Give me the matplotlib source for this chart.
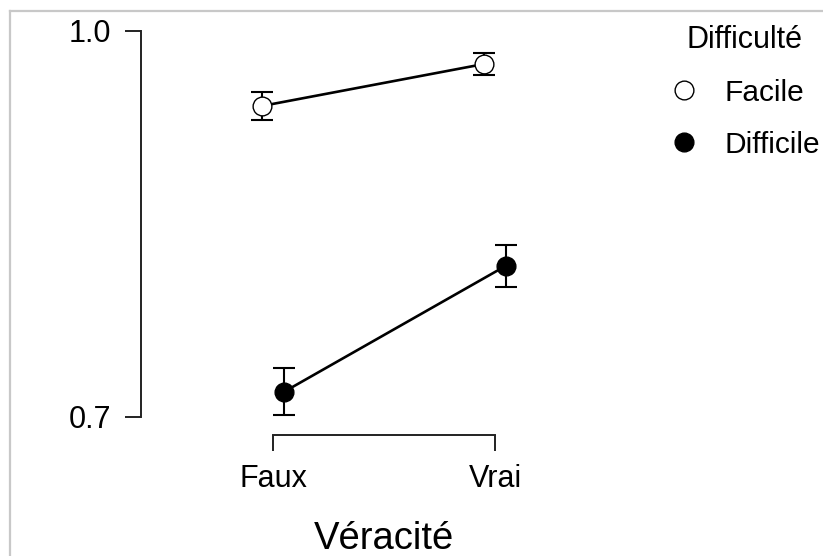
import matplotlib
matplotlib.use("Agg")
import matplotlib.pyplot as plt
from matplotlib.lines import Line2D

plt.rcParams['font.family'] = ['Liberation Sans', 'DejaVu Sans']

# data
categories = ["Faux", "Vrai"]
groups = ["Facile", "Difficile"]
facile_mean = [0.9415, 0.9741]
facile_err = [0.0107, 0.0083]
difficile_mean = [0.7194, 0.8174]
difficile_err = [0.0184, 0.0164]
yticks = [0.7, 1.0]
ytick_labels = ["0.7", "1.0"]

W, H = 823, 556
dpi = 100
fig = plt.figure(figsize=(W / dpi, H / dpi), dpi=dpi)

# axes box in pixel terms (top-left origin)
left, right, top, bottom = 141, 620, 20, 435
ax = fig.add_axes([left / W, 1 - bottom / H, (right - left) / W, (bottom - top) / H])

x = list(range(len(categories)))
dodge = 0.05
styles = [
    (facile_mean, facile_err, -dodge, "white"),
    (difficile_mean, difficile_err, dodge, "black"),
]
for (m, e, off, fc), name in zip(styles, groups):
    xs = [v + off for v in x]
    ax.errorbar(xs, m, yerr=e, fmt="none", ecolor="black", elinewidth=1.5,
                capsize=7.9, capthick=1.5, zorder=2)
    ax.plot(xs, m, color="black", lw=1.9, zorder=3)
    ax.plot(xs, m, ls="none", marker="o", ms=13.5, mfc=fc, mec="black",
            mew=1.0, zorder=4, label=name)

ax.set_xlim(-0.5946, 1.5631)
ax.set_ylim(0.6858, 1.00832)
ax.set_xticks(x)
ax.set_xticklabels(categories)
ax.set_yticks(yticks)
ax.set_yticklabels(ytick_labels)

for s in ["top", "right"]:
    ax.spines[s].set_visible(False)
ax.spines["left"].set_bounds(0.7, 1.0)
ax.spines["bottom"].set_bounds(0, 1)
for s in ["left", "bottom"]:
    ax.spines[s].set_linewidth(1.4)
    ax.spines[s].set_color("#222222")
ax.tick_params(axis="both", length=11.5, width=1.4, color="#222222",
               labelsize=22, labelcolor="black")
ax.tick_params(axis="y", pad=10)
ax.tick_params(axis="x", pad=9.5)

fig.text(384 / W, 1 - 549 / H, "Véracité", fontsize=27.5, ha="center",
         va="baseline")

leg = fig.legend(loc="upper left", bbox_to_anchor=(669 / W, 1 - 25 / H),
                 bbox_transform=fig.transFigure, frameon=False, fontsize=21.5,
                 title="Difficulté", title_fontsize=22, borderpad=0,
                 borderaxespad=0, handlelength=1.0, handletextpad=0.85,
                 labelspacing=0.8, markerscale=1.0)

# light grey frame remnant on the left and top
fig.add_artist(Line2D([9.5 / W, 9.5 / W], [0, 1 - 11 / H], color="#c8c8c8",
                      lw=1.6, transform=fig.transFigure))
fig.add_artist(Line2D([9.5 / W, 1], [1 - 11 / H, 1 - 11 / H], color="#c8c8c8",
                      lw=1.6, transform=fig.transFigure))

fig.savefig("out.png", dpi=dpi)
